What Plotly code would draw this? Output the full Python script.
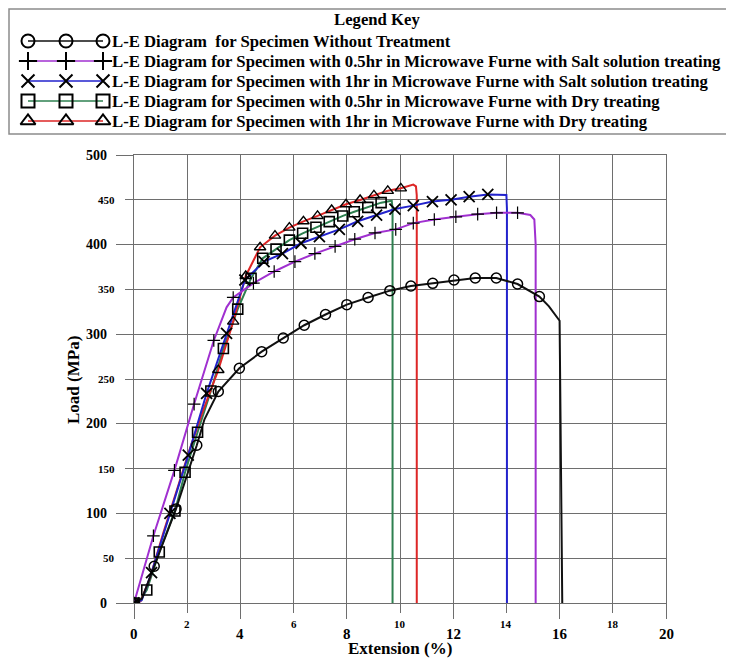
import plotly.graph_objects as go

# The page adds an 8px body margin, so the figure is 8px smaller and all
# pixel positions below are given in page coordinates and shifted by OFF.
OFF = 8
W, H = 734 - OFF, 658 - OFF

# ---------------- data ----------------
# Without treatment (black, circles)
blk_x = [0, 0.3, 0.76, 1.58, 2.36, 2.65, 3.17, 3.96, 4.8, 5.61, 6.4, 7.2, 8.0, 8.8, 9.62, 10.41,
         11.23, 12.03, 12.83, 13.62, 14.42, 15.24, 15.6, 16.0, 16.05, 16.1]
blk_y = [0, 5, 41, 105, 176, 205, 236, 262, 280.5, 295.7, 310, 322, 333, 341, 348.6, 353.8,
         356.8, 360.5, 362.7, 362.7, 356, 342, 331, 315, 150, 0]
blk_mx = [0, 0.76, 1.58, 2.36, 3.17, 3.96, 4.8, 5.61, 6.4, 7.2, 8.0, 8.8, 9.62, 10.41,
          11.23, 12.03, 12.83, 13.62, 14.42, 15.24]
blk_my = [0, 41, 105, 176, 236, 262, 280.5, 295.7, 310, 322, 333, 341, 348.6, 353.8,
          356.8, 360.5, 362.7, 362.7, 356, 342]

# 0.5hr microwave, salt solution (purple, plus)
pur_x = [0, 0.73, 1.52, 2.26, 3.0, 3.48, 3.73, 4.49, 5.27, 6.05, 6.8, 7.56, 8.3, 9.06, 9.84,
         10.5, 11.29, 12.1, 12.92, 13.63, 14.42, 14.9, 15.05, 15.1, 15.1]
pur_y = [0, 75, 148, 222, 293, 330, 341, 357, 370, 381, 390, 398, 406, 413, 417,
         424, 428, 431, 434, 435.5, 435.5, 433, 428, 400, 0]
pur_mx = [0, 0.73, 1.52, 2.26, 3.0, 3.73, 4.49, 5.27, 6.05, 6.8, 7.56, 8.3, 9.06, 9.84,
          10.5, 11.29, 12.1, 12.92, 13.63, 14.42]
pur_my = [0, 75, 148, 222, 293, 341, 357, 370, 381, 390, 398, 406, 413, 417,
          424, 428, 431, 434, 435.5, 435.5]

# 1hr microwave, salt solution (blue, x)
blu_x = [0, 0.29, 0.66, 1.35, 2.04, 2.73, 3.48, 4.17, 4.89, 5.58, 6.28, 6.97, 7.72, 8.41,
         9.12, 9.81, 10.5, 11.22, 11.92, 12.6, 13.3, 14.0, 14.02, 14.02]
blu_y = [0, 3, 34, 100, 165, 234, 301, 360.5, 381, 390, 401.5, 409, 417, 426,
         433, 439.7, 443.5, 448, 450, 453.5, 456, 455.4, 440, 0]
blu_mx = [0, 0.66, 1.35, 2.04, 2.73, 3.48, 4.17, 4.89, 5.58, 6.28, 6.97, 7.72, 8.41,
          9.12, 9.81, 10.5, 11.22, 11.92, 12.6, 13.3]
blu_my = [0, 34, 100, 165, 234, 301, 360.5, 381, 390, 401.5, 409, 417, 426,
          433, 439.7, 443.5, 448, 450, 453.5, 456]

# 0.5hr microwave, dry (green, squares)
grn_x = [0, 0.2, 0.48, 0.95, 1.54, 1.92, 2.39, 2.89, 3.36, 3.9, 4.4, 4.84, 5.34, 5.84, 6.34,
         6.84, 7.34, 7.85, 8.28, 8.79, 9.29, 9.69, 9.72, 9.72]
grn_y = [0, 2, 14.5, 57, 102.7, 146, 190.5, 236.6, 284, 328, 362.4, 384.7, 395, 405, 412.6,
         419.3, 425.6, 432, 436.7, 441.6, 446.8, 449, 440, 0]
grn_mx = [0, 0.48, 0.95, 1.54, 1.92, 2.39, 2.89, 3.36, 3.9, 4.4, 4.84, 5.34, 5.84, 6.34,
          6.84, 7.34, 7.85, 8.28, 8.79, 9.29]
grn_my = [0, 14.5, 57, 102.7, 146, 190.5, 236.6, 284, 328, 362.4, 384.7, 395, 405, 412.6,
          419.3, 425.6, 432, 436.7, 441.6, 446.8]

# 1hr microwave, dry (red, triangles)
red_x = [0, 0.25, 0.6, 1.1, 1.6, 2.1, 2.6, 3.17, 3.73, 4.2, 4.74, 5.3, 5.84, 6.37, 6.9, 7.43,
         7.97, 8.5, 9.02, 9.54, 10.03, 10.5, 10.6, 10.63, 10.63]
red_y = [0, 2, 28, 78, 125, 172, 215, 260, 314, 365, 397, 410, 419, 426, 432, 438.6,
         445, 449.8, 455, 460, 462.8, 467, 465, 455, 0]
red_mx = [0, 3.17, 3.73, 4.2, 4.74, 5.3, 5.84, 6.37, 6.9, 7.43, 7.97, 8.5, 9.02, 9.54, 10.03]
red_my = [0, 260, 314, 365, 397, 410, 419, 426, 432, 438.6, 445, 449.8, 455, 460, 462.8]

series_names = [
    "L-E Diagram  for Specimen Without Treatment",
    "L-E Diagram for Specimen with 0.5hr in Microwave Furne with Salt solution treating",
    "L-E Diagram for Specimen with 1hr in Microwave Furne with Salt solution treating",
    "L-E Diagram for Specimen with 0.5hr in Microwave Furne with Dry treating",
    "L-E Diagram for Specimen with 1hr in Microwave Furne with Dry treating",
]

x_major_ticks = [0, 4, 8, 12, 16, 20]
x_minor_ticks = [2, 6, 10, 14, 18]
y_major_ticks = [0, 100, 200, 300, 400, 500]
y_minor_ticks = [50, 150, 250, 350, 450]

# ---------------- styling ----------------
FONT = "Liberation Serif"
colors = ["#111111", "#A030D0", "#2222CC", "#2E8050", "#DD2626"]
symbols = ["circle-open", "cross-thin-open", "x-thin-open", "square-open", "triangle-up-open"]
msizes = [10, 9, 11, 10, 10]
mwidths = [1.5, 1.2, 1.8, 1.6, 1.4]
GRID = "#6E6E6E"

series = [
    (blk_x, blk_y, blk_mx, blk_my),
    (pur_x, pur_y, pur_mx, pur_my),
    (blu_x, blu_y, blu_mx, blu_my),
    (grn_x, grn_y, grn_mx, grn_my),
    (red_x, red_y, red_mx, red_my),
]

def px(xp):
    return (xp - OFF) / W
def py(yp):
    return 1 - (yp - OFF) / H

# main plot area in page pixels
PL, PR, PT, PB = 134, 666, 155, 603

fig = go.Figure()

draw_order = [3, 4, 2, 1, 0]
for i in draw_order:
    lx, ly, mx, my = series[i]
    fig.add_trace(go.Scatter(x=lx, y=ly, mode="lines",
                             line=dict(color=colors[i], width=2),
                             showlegend=False, hoverinfo="skip",
                             xaxis="x", yaxis="y"))
for i in draw_order:
    lx, ly, mx, my = series[i]
    fig.add_trace(go.Scatter(x=mx, y=my, mode="markers",
                             marker=dict(symbol=symbols[i], size=msizes[i], color="black",
                                         line=dict(color="black", width=mwidths[i])),
                             name=series_names[i], showlegend=False,
                             xaxis="x", yaxis="y"))

# ---------------- legend drawn in a separate pixel-space subplot ----------------
LEG_BOTTOM = 140
leg_rows = [41, 61, 81, 101, 121]
leg_mark_x = [28, 66, 103]
for i in range(5):
    yy = leg_rows[i]
    fig.add_trace(go.Scatter(x=[leg_mark_x[0], leg_mark_x[-1]], y=[yy, yy], mode="lines",
                             line=dict(color=colors[i], width=1.6),
                             showlegend=False, hoverinfo="skip", xaxis="x2", yaxis="y2"))
    fig.add_trace(go.Scatter(x=leg_mark_x, y=[yy] * 3, mode="markers",
                             marker=dict(symbol=symbols[i], size=13, color="black",
                                         line=dict(color="black", width=2)),
                             showlegend=False, hoverinfo="skip", xaxis="x2", yaxis="y2"))

LEG_FONT = 16.7
annotations = []
annotations.append(dict(text="Legend Key", x=px(377), y=py(20), xref="paper", yref="paper",
                        showarrow=False, xanchor="center", yanchor="middle",
                        font=dict(family=FONT, size=LEG_FONT, color="black", weight="bold")))
for i in range(5):
    annotations.append(dict(text=series_names[i].replace("  ", "&nbsp; "), x=px(110), y=py(leg_rows[i]),
                            xref="paper", yref="paper", showarrow=False,
                            xanchor="left", yanchor="middle",
                            font=dict(family=FONT, size=LEG_FONT, color="black", weight="bold")))

# tick labels
for v in x_major_ticks:
    annotations.append(dict(text=str(v), x=v, y=py(634), xref="x", yref="paper", showarrow=False,
                            xanchor="center", yanchor="middle",
                            font=dict(family=FONT, size=15, color="black", weight="bold")))
for v in x_minor_ticks:
    annotations.append(dict(text=str(v), x=v, y=py(624), xref="x", yref="paper", showarrow=False,
                            xanchor="center", yanchor="middle",
                            font=dict(family=FONT, size=11, color="black", weight="bold")))
for v in y_major_ticks:
    annotations.append(dict(text=str(v), x=px(109), y=v, xref="paper", yref="y", showarrow=False,
                            xanchor="right", yanchor="middle",
                            font=dict(family=FONT, size=14, color="black", weight="bold")))
for v in y_minor_ticks:
    annotations.append(dict(text=str(v), x=px(117), y=v, xref="paper", yref="y", showarrow=False,
                            xanchor="right", yanchor="middle",
                            font=dict(family=FONT, size=11, color="black", weight="bold")))

annotations.append(dict(text="Extension (%)", x=px(400), y=py(648), xref="paper", yref="paper",
                        showarrow=False, xanchor="center", yanchor="middle",
                        font=dict(family=FONT, size=17, color="black", weight="bold")))
annotations.append(dict(text="Load (MPa)", x=px(73), y=py(380), xref="paper", yref="paper",
                        showarrow=False, xanchor="center", yanchor="middle", textangle=-90,
                        font=dict(family=FONT, size=17, color="black", weight="bold")))

shapes = [dict(type="rect", xref="paper", yref="paper",
               x0=px(9), x1=px(727), y0=py(9), y1=py(134),
               line=dict(color="#8C8C8C", width=1.5), fillcolor="rgba(0,0,0,0)")]

fig.update_layout(
    width=W, height=H,
    margin=dict(l=0, r=0, t=0, b=0),
    paper_bgcolor="white", plot_bgcolor="rgba(0,0,0,0)",
    showlegend=False,
    font=dict(family=FONT, color="black"),
    annotations=annotations,
    shapes=shapes,
    xaxis=dict(domain=[px(PL), px(PR)], range=[0, 20], tickmode="array", tickvals=x_major_ticks,
               showticklabels=False, ticks="outside", ticklen=15, tickwidth=1.3, tickcolor=GRID,
               showgrid=True, gridcolor=GRID, gridwidth=1.3, zeroline=False,
               showline=True, linecolor=GRID, linewidth=1.3, mirror=True,
               minor=dict(tickmode="array", tickvals=x_minor_ticks, ticks="outside", ticklen=9,
                          tickwidth=1.3, tickcolor=GRID, showgrid=True, gridcolor=GRID, gridwidth=1.3),
               anchor="y", fixedrange=True),
    yaxis=dict(domain=[py(PB), py(PT)], range=[0, 500], tickmode="array", tickvals=y_major_ticks,
               showticklabels=False, ticks="outside", ticklen=17, tickwidth=1.3, tickcolor=GRID,
               showgrid=True, gridcolor=GRID, gridwidth=1.3, zeroline=False,
               showline=True, linecolor=GRID, linewidth=1.3, mirror=True,
               minor=dict(tickmode="array", tickvals=y_minor_ticks, ticks="outside", ticklen=8,
                          tickwidth=1.3, tickcolor=GRID, showgrid=True, gridcolor=GRID, gridwidth=1.3),
               anchor="x", fixedrange=True),
    xaxis2=dict(domain=[0, 1], range=[OFF, OFF + W], visible=False, anchor="y2", fixedrange=True),
    yaxis2=dict(domain=[py(LEG_BOTTOM), 1], range=[LEG_BOTTOM, OFF], visible=False, anchor="x2",
                fixedrange=True),
)

fig.write_html("out.html")
